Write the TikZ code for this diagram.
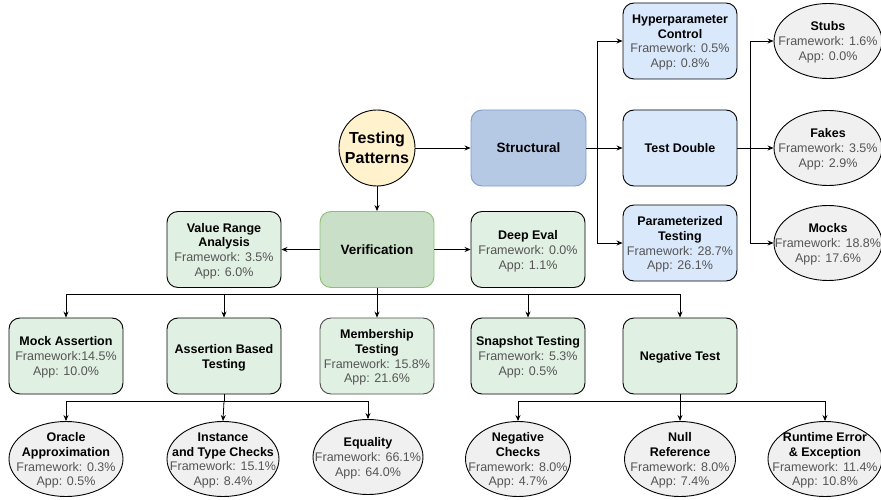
\documentclass[tikz,border=0pt]{standalone}
\usepackage{fontspec}
\setmainfont{Liberation Sans}
\usetikzlibrary{shapes.geometric,arrows.meta}
\definecolor{statgray}{HTML}{555555}
\definecolor{ylw}{HTML}{FFF2CC}
\definecolor{bluedark}{HTML}{B6C9E4}
\definecolor{bluedarkline}{HTML}{7D9CC9}
\definecolor{bluelight}{HTML}{DAE8FC}
\definecolor{greendark}{HTML}{C9DFC7}
\definecolor{greendarkline}{HTML}{8FBF75}
\definecolor{greenlight}{HTML}{E0F0E2}
\definecolor{ellfill}{HTML}{F0F0F0}
\newcommand{\statln}[1]{{\color{statgray}#1}}
\begin{document}
\begin{tikzpicture}[x=1pt,y=-1pt,
  every node/.style={font=\fontsize{12.5}{14.8}\selectfont, align=center, inner sep=0pt},
  box/.style={draw=black, rounded corners=11pt, minimum width=114pt, minimum height=76pt, line width=0.9pt, text depth=0pt},
  bluebox/.style={box, fill=bluelight},
  greenbox/.style={box, fill=greenlight},
  ell/.style={ellipse, draw=black, fill=ellfill, line width=0.9pt, minimum width=112pt, minimum height=75pt},
  etext/.style={yshift=-1.5pt},
  arr/.style={-{Stealth[length=6pt,width=5pt]}, line width=0.8pt},
  ln/.style={line width=0.8pt}
]
\useasboundingbox (0,0) rectangle (881,500);

% root
\node[circle, draw=black, fill=ylw, line width=0.9pt, minimum size=76pt, font=\fontsize{16}{20.5}\selectfont\bfseries] (root) at (377,148) {Testing\\Patterns};

% structural branch
\node[box, draw=bluedarkline, fill=bluedark, minimum width=115pt, font=\fontsize{13.5}{16}\selectfont\bfseries] (struct) at (528.5,148) {Structural};
\node[bluebox] (hyper) at (680,41) {};
\node[etext] at (hyper) {\textbf{Hyperparameter}\\\textbf{Control}\\\statln{Framework: 0.5\%}\\\statln{App: 0.8\%}};
\node[bluebox] (tdouble) at (680,148) {\textbf{Test Double}};
\node[bluebox] (param) at (680,243) {};
\node[etext] at (param) {\textbf{Parameterized}\\\textbf{Testing}\\\statln{Framework: 28.7\%}\\\statln{App: 26.1\%}};

\node[ell, minimum width=108pt] (stubs) at (828,41) {};
\node[etext] at (stubs) {\textbf{Stubs}\\\statln{Framework: 1.6\%}\\\statln{App: 0.0\%}};
\node[ell, minimum width=108pt] (fakes) at (828,148) {};
\node[etext] at (fakes) {\textbf{Fakes}\\\statln{Framework: 3.5\%}\\\statln{App: 2.9\%}};
\node[ell, minimum width=108pt] (mocks) at (828,243) {};
\node[etext] at (mocks) {\textbf{Mocks}\\\statln{Framework: 18.8\%}\\\statln{App: 17.6\%}};

% verification branch
\node[box, draw=greendarkline, fill=greendark, font=\fontsize{13.5}{16}\selectfont\bfseries] (verif) at (377,249.5) {Verification};
\node[greenbox] (vra) at (224,249.5) {};
\node[etext] at (vra) {\textbf{Value Range}\\\textbf{Analysis}\\\statln{Framework: 3.5\%}\\\statln{App: 6.0\%}};
\node[greenbox] (deep) at (528,249.5) {};
\node[etext] at (deep) {\textbf{Deep Eval}\\\statln{Framework: 0.0\%}\\\statln{App: 1.1\%}};

\node[greenbox] (mock) at (66,356) {};
\node[etext] at (mock) {\textbf{Mock Assertion}\\\statln{Framework:14.5\%}\\\statln{App: 10.0\%}};
\node[greenbox] (ab) at (224,356) {};
\node[etext] at (ab) {\textbf{Assertion Based}\\\textbf{Testing}};
\node[greenbox, draw=black!70] (memb) at (377,356) {};
\node[etext] at (memb) {\textbf{Membership}\\\textbf{Testing}\\\statln{Framework: 15.8\%}\\\statln{App: 21.6\%}};
\node[greenbox] (snap) at (528,356) {};
\node[etext] at (snap) {\textbf{Snapshot Testing}\\\statln{Framework: 5.3\%}\\\statln{App: 0.5\%}};
\node[greenbox] (neg) at (680,356) {\textbf{Negative Test}};

\node[ell, minimum width=114pt] (oracle) at (66,459) {};
\node[etext] at (oracle) {\textbf{Oracle}\\\textbf{Approximation}\\\statln{Framework: 0.3\%}\\\statln{App: 0.5\%}};
\node[ell, minimum width=112pt] (inst) at (223,459) {};
\node[etext] at (inst) {\textbf{Instance}\\\textbf{and Type Checks}\\\statln{Framework: 15.1\%}\\\statln{App: 8.4\%}};
\node[ell, minimum width=110pt] (eq) at (368,457) {};
\node[etext] at (eq) {\textbf{Equality}\\\statln{Framework: 66.1\%}\\\statln{App: 64.0\%}};
\node[ell, minimum width=105pt] (negc) at (518,459) {};
\node[etext] at (negc) {\textbf{Negative}\\\textbf{Checks}\\\statln{Framework: 8.0\%}\\\statln{App: 4.7\%}};
\node[ell, minimum width=111pt] (null) at (680,459) {};
\node[etext] at (null) {\textbf{Null}\\\textbf{Reference}\\\statln{Framework: 8.0\%}\\\statln{App: 7.4\%}};
\node[ell, minimum width=114pt] (rt) at (825,459) {};
\node[etext] at (rt) {\textbf{Runtime Error}\\\textbf{\& Exception}\\\statln{Framework: 11.4\%}\\\statln{App: 10.8\%}};

% connectors
\draw[arr] (root.east) -- (struct.west);
\draw[arr] (root.south) -- (verif.north);

\coordinate (sbus) at (597,148);
\draw[ln] (struct.east) -- (sbus);
\draw[arr] (sbus) |- (hyper.west);
\draw[arr] (sbus) -- (tdouble.west);
\draw[arr] (sbus) |- (param.west);

\coordinate (tbus) at (750,148);
\draw[ln] (tdouble.east) -- (tbus);
\draw[arr] (tbus) |- (stubs.west);
\draw[arr] (tbus) -- (fakes.west);
\draw[arr] (tbus) |- (mocks.west);

\draw[arr] (verif.west) -- (vra.east);
\draw[arr] (verif.east) -- (deep.west);

\coordinate (vbus) at (377,294);
\draw[ln] (verif.south) -- (vbus);
\draw[arr] (vbus) -| (mock.north);
\draw[arr] (vbus) -| (ab.north);
\draw[arr] (vbus) -- (memb.north);
\draw[arr] (vbus) -| (snap.north);
\draw[arr] (vbus) -| (neg.north);

\coordinate (abus) at (224,401);
\draw[ln] (ab.south) -- (abus);
\draw[arr] (abus) -| (oracle.north);
\draw[arr] (abus) -- (inst.north);
\draw[arr] (abus) -| (eq.north);

\coordinate (nbus) at (680,401);
\draw[ln] (neg.south) -- (nbus);
\draw[arr] (nbus) -| (negc.north);
\draw[arr] (nbus) -- (null.north);
\draw[arr] (nbus) -| (rt.north);
\end{tikzpicture}
\end{document}
